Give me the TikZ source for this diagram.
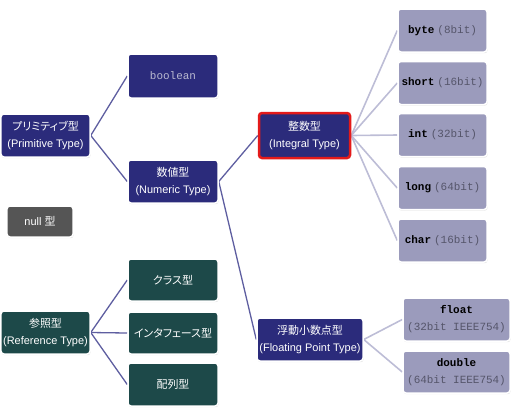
\documentclass[tikz,border=0pt]{standalone}
\usepackage{fontspec}
\setmainfont{Liberation Sans}
\setmonofont{Liberation Mono}
\newfontfamily\jpfont[RawFeature=+palt]{Noto Sans CJK JP}
\usetikzlibrary{shadows,backgrounds}
\definecolor{navybox}{HTML}{2B2B7B}
\definecolor{tealbox}{HTML}{1D4949}
\definecolor{greybox}{HTML}{555555}
\definecolor{leafbox}{HTML}{9B9BBC}
\definecolor{leaftext}{HTML}{55556A}
\definecolor{darklink}{HTML}{5E5EA0}
\definecolor{lightlink}{HTML}{BDBDD6}
\definecolor{hilite}{HTML}{E41A1A}
\newcommand{\jp}[1]{{\jpfont #1}}
\newcommand{\bits}[1]{{\ttfamily\color{leaftext}#1}}
\begin{document}
\begin{tikzpicture}[x=1bp,y=-1bp,
  box/.style={rectangle,rounded corners=3bp,draw=white,line width=1.5bp,
    drop shadow={opacity=0.22,shadow xshift=0.6bp,shadow yshift=-1.2bp},
    minimum width=90bp,minimum height=43bp,inner sep=1bp,align=center,
    text=white,font=\fontsize{11}{17}\selectfont},
  prim/.style={box,fill=navybox},
  ref/.style={box,fill=tealbox},
  leaf/.style={box,fill=leafbox,text=black,minimum width=89bp},
  dark/.style={draw=darklink,line width=1.3bp},
  light/.style={draw=lightlink,line width=1.6bp}]
  \useasboundingbox (0,0) rectangle (520,417);
  % left part
  \node[prim,minimum width=89bp] (primitive) at (45.5,135.5) {\jp{プリミティブ型}\\(Primitive Type)};
  \node[box,fill=greybox,minimum width=66bp,minimum height=31bp] (null) at (40,221.5) {null \jp{型}};
  \node[ref,minimum width=89bp] (reference) at (45.5,332.5) {\jp{参照型}\\(Reference Type)};
  \node[prim,minimum height=44bp] (boolean) at (173,76) {\ttfamily\color{leafbox!70!white}boolean};
  \node[prim] (numeric) at (173,181.5) {\jp{数値型}\\(Numeric Type)};
  \node[ref,minimum height=42bp] (class) at (173,280) {\jp{クラス型}};
  \node[ref,minimum height=42bp] (interface) at (173,333) {\jp{インタフェース型}};
  \node[ref] (array) at (173,384.5) {\jp{配列型}};
  % middle part
  \node[prim,draw=hilite,line width=2.5bp,minimum width=91bp,minimum height=45bp] (integral) at (304.5,135.5) {\jp{整数型}\\(Integral Type)};
  \node[prim,minimum width=106bp] (floating) at (310,339.5) {\jp{浮動小数点型}\\(Floating Point Type)};
  % right part
  \node[leaf] (byte) at (442.5,30.5) {\texttt{\bfseries byte} \bits{(8bit)}};
  \node[leaf] (short) at (442.5,83) {\texttt{\bfseries short} \bits{(16bit)}};
  \node[leaf] (int) at (442.5,135) {\texttt{\bfseries int} \bits{(32bit)}};
  \node[leaf] (long) at (442.5,188) {\texttt{\bfseries long} \bits{(64bit)}};
  \node[leaf] (char) at (442.5,240.5) {\texttt{\bfseries char} \bits{(16bit)}};
  \node[leaf,minimum width=107bp] (float) at (456.5,319.5) {\texttt{\bfseries float}\\\bits{(32bit IEEE754)}};
  \node[leaf,minimum width=107bp,minimum height=42bp] (double) at (456.5,372) {\texttt{\bfseries double}\\\bits{(64bit IEEE754)}};
  \begin{scope}[on background layer]
  \foreach \t in {boolean,numeric}
    \draw[dark] (primitive.east) -- (\t.west);
  \foreach \t in {class,interface,array}
    \draw[dark] (reference.east) -- (\t.west);
  \foreach \t in {integral,floating}
    \draw[dark] (numeric.east) -- (\t.west);
  \foreach \t in {byte,short,int,long,char}
    \draw[light] (integral.east) -- (\t.west);
  \foreach \t in {float,double}
    \draw[light] (floating.east) -- (\t.west);
  \end{scope}
\end{tikzpicture}
\end{document}
